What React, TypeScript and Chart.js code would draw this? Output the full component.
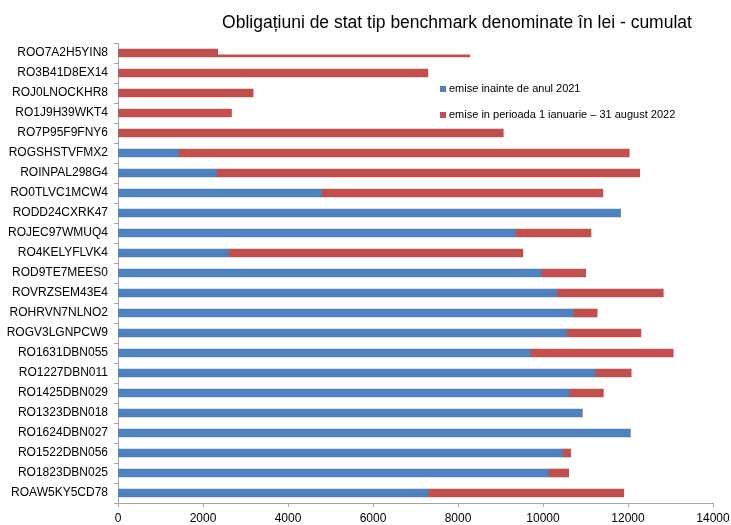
import React, { useEffect, useRef } from "react";
import { Chart, registerables } from "chart.js";

Chart.register(...registerables);

const categories = [
  "ROO7A2H5YIN8",
  "RO3B41D8EX14",
  "ROJ0LNOCKHR8",
  "RO1J9H39WKT4",
  "RO7P95F9FNY6",
  "ROGSHSTVFMX2",
  "ROINPAL298G4",
  "RO0TLVC1MCW4",
  "RODD24CXRK47",
  "ROJEC97WMUQ4",
  "RO4KELYFLVK4",
  "ROD9TE7MEES0",
  "ROVRZSEM43E4",
  "ROHRVN7NLNO2",
  "ROGV3LGNPCW9",
  "RO1631DBN055",
  "RO1227DBN011",
  "RO1425DBN029",
  "RO1323DBN018",
  "RO1624DBN027",
  "RO1522DBN056",
  "RO1823DBN025",
  "ROAW5KY5CD78",
];

const beforeLabel = "emise inainte de anul 2021";
const duringLabel = "emise in perioada 1 ianuarie \u2013 31 august 2022";

const emiseInainte = [
  0, 0, 0, 0, 0, 1420, 2320, 4790, 11820, 9350, 2600, 9960, 10320, 10710,
  10550, 9700, 11230, 10620, 10920, 12050, 10455, 10125, 7290,
];

const emisePerioada = [
  8280, 7290, 3180, 2670, 9065, 10610, 9955, 6620, 0, 1780, 6925, 1045, 2510,
  565, 1755, 3365, 845, 800, 0, 0, 195, 480, 4610,
];

const xTicks = [0, 2000, 4000, 6000, 8000, 10000, 12000, 14000];

const titleText = "Obliga\u021biuni de stat tip benchmark denominate \u00een lei - cumulat";

const BLUE = "#4F81BD";
const RED = "#C0504D";
const AXIS = "#a6a6a6";
const FONT = "Arial, 'Liberation Sans', sans-serif";

const titleAndLegend = {
  id: "titleAndLegend",
  afterDatasetsDraw(chart: any) {
    const ctx = chart.ctx;
    ctx.save();
    // title box (white background overlapping plot)
    ctx.fillStyle = "#ffffff";
    ctx.fillRect(218, 0, chart.width - 218, 54.5);
    ctx.fillStyle = "#000000";
    ctx.font = `17.5px ${FONT}`;
    ctx.textAlign = "center";
    ctx.textBaseline = "alphabetic";
    ctx.fillText(titleText, 457, 28);

    // legend
    ctx.font = `11px ${FONT}`;
    ctx.textAlign = "left";
    ctx.textBaseline = "middle";
    ctx.fillStyle = BLUE;
    ctx.fillRect(440, 86, 6, 6);
    ctx.fillStyle = RED;
    ctx.fillRect(440, 112, 6, 6);
    ctx.fillStyle = "#000000";
    ctx.fillText(beforeLabel, 449, 89);
    ctx.fillText(duringLabel, 449, 115);
    ctx.restore();
  },
};

export default function App() {
  const ref = useRef<HTMLCanvasElement | null>(null);

  useEffect(() => {
    if (!ref.current) return;
    Chart.defaults.font.family = FONT;
    Chart.defaults.color = "#000";
    const chart = new Chart(ref.current, {
      type: "bar",
      data: {
        labels: categories,
        datasets: [
          {
            label: beforeLabel,
            data: emiseInainte,
            backgroundColor: BLUE,
            borderWidth: 0,
            barThickness: 8,
          },
          {
            label: duringLabel,
            data: emisePerioada,
            backgroundColor: RED,
            borderWidth: 0,
            barThickness: 8,
          },
        ],
      },
      options: {
        indexAxis: "y",
        animation: false,
        responsive: true,
        maintainAspectRatio: false,
        layout: { padding: { top: 43, right: 18, left: 0, bottom: 0 } },
        plugins: {
          legend: { display: false },
          title: { display: false },
          tooltip: { enabled: false },
        },
        scales: {
          x: {
            stacked: true,
            min: 0,
            max: 14000,
            afterBuildTicks: (scale: any) => {
              scale.ticks = xTicks.map((v) => ({ value: v }));
            },
            ticks: {
              font: { size: 12 },
              padding: 4,
              maxRotation: 0,
              color: "#000",
              callback: (v: any) => String(v),
            },
            grid: {
              drawOnChartArea: false,
              drawTicks: true,
              tickLength: 4,
              color: AXIS,
            },
            border: { display: true, color: AXIS, width: 1 },
            afterFit: (scale: any) => {
              scale.height = 22;
              scale.paddingRight = 0;
              scale.paddingLeft = 0;
            },
          },
          y: {
            stacked: true,
            ticks: {
              font: { size: 12 },
              padding: 6,
              color: "#000",
              autoSkip: false,
            },
            grid: {
              drawOnChartArea: false,
              drawTicks: true,
              tickLength: 4,
              color: AXIS,
              offset: true,
            },
            border: { display: true, color: AXIS, width: 1 },
            afterFit: (scale: any) => {
              scale.width = 118;
            },
          },
        },
      },
      plugins: [titleAndLegend],
    });
    return () => chart.destroy();
  }, []);

  return (
    <div
      style={{
        position: "fixed",
        left: 0,
        top: 0,
        width: 731,
        height: 525,
        background: "#fff",
      }}
    >
      <canvas ref={ref} />
    </div>
  );
}
